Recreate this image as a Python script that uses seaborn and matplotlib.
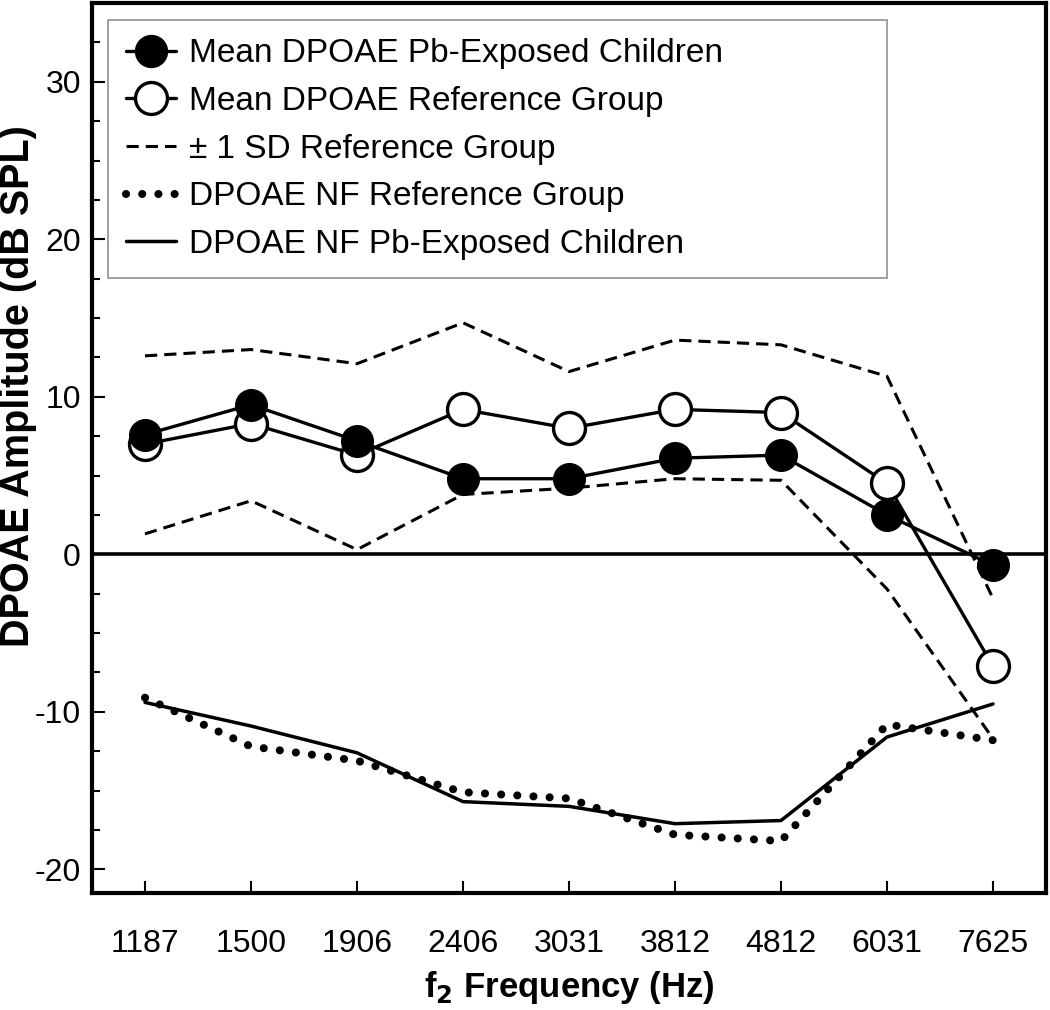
import numpy as np
import pandas as pd
import matplotlib
matplotlib.use('Agg')
import matplotlib.pyplot as plt
import seaborn as sns
from matplotlib.ticker import MultipleLocator

# f2 frequencies (categories)
freqs = ['1187', '1500', '1906', '2406', '3031', '3812', '4812', '6031', '7625']

# DPOAE amplitudes (dB SPL)
mean_pb = [7.6, 9.5, 7.2, 4.8, 4.8, 6.1, 6.3, 2.5, -0.7]
mean_ref = [7.0, 8.3, 6.3, 9.2, 8.0, 9.2, 9.0, 4.5, -7.1]
sd_upper = [12.6, 13.0, 12.1, 14.7, 11.6, 13.6, 13.3, 11.3, -2.8]
sd_lower = [1.3, 3.4, 0.3, 3.8, 4.2, 4.8, 4.7, -2.2, -11.7]
nf_ref = [-9.1, -12.2, -13.1, -15.1, -15.5, -17.8, -18.2, -10.8, -11.8]
nf_pb = [-9.4, -10.9, -12.6, -15.7, -16.0, -17.1, -16.9, -11.6, -9.5]


def build_frame():
    pos = np.arange(len(freqs))
    return pd.DataFrame({'pos': pos, 'mean_pb': mean_pb, 'mean_ref': mean_ref,
                         'sd_upper': sd_upper, 'sd_lower': sd_lower,
                         'nf_ref': nf_ref, 'nf_pb': nf_pb})


def plot_dpoae(df):
    sns.set_style('ticks')
    plt.rcParams['font.family'] = ['Liberation Sans', 'DejaVu Sans']
    plt.rcParams['text.color'] = 'black'
    plt.rcParams['axes.labelcolor'] = 'black'
    plt.rcParams['xtick.color'] = 'black'
    plt.rcParams['ytick.color'] = 'black'

    fig = plt.figure(figsize=(10.5, 10.1), dpi=100)
    ax = fig.add_axes([92 / 1050, 1 - 893 / 1010, 954 / 1050, 890 / 1010])

    ax.axhline(0, color='black', lw=2.6, zorder=1)

    # SD band of reference group
    sns.lineplot(data=df, x='pos', y='sd_upper', ax=ax, color='black', lw=2.2,
                 zorder=2, label='_nolegend_')
    sns.lineplot(data=df, x='pos', y='sd_lower', ax=ax, color='black', lw=2.2,
                 zorder=2, label='_nolegend_')
    for ln in ax.lines[-2:]:
        ln.set_dashes((4.0, 2.3))

    # noise floors
    sns.lineplot(data=df, x='pos', y='nf_ref', ax=ax, color='black', lw=5.8,
                 zorder=2, label='_nolegend_')
    ax.lines[-1].set_dashes((0.01, 2.0))
    ax.lines[-1].set_dash_capstyle('round')
    sns.lineplot(data=df, x='pos', y='nf_pb', ax=ax, color='black', lw=2.5,
                 zorder=2, label='_nolegend_')

    # means
    sns.lineplot(data=df, x='pos', y='mean_ref', ax=ax, color='black', lw=2.4,
                 marker='o', markersize=23, markerfacecolor='white',
                 markeredgecolor='black', markeredgewidth=2.4, zorder=3,
                 label='_nolegend_')
    sns.lineplot(data=df, x='pos', y='mean_pb', ax=ax, color='black', lw=2.4,
                 marker='o', markersize=23, markerfacecolor='black',
                 markeredgecolor='black', zorder=4, label='_nolegend_')

    ax.set_xlim(-0.5, len(freqs) - 0.5)
    ax.set_ylim(-21.5, 35)
    ax.set_xticks(np.arange(len(freqs)))
    ax.set_xticklabels(freqs)
    ax.set_yticks([-20, -10, 0, 10, 20, 30])
    ax.set_yticklabels(['-20', '-10', '0', '10', '20', '30'])
    ax.yaxis.set_minor_locator(MultipleLocator(2.5))
    ax.tick_params(axis='both', which='major', direction='in', length=9,
                   width=1.5, labelsize=23, pad=8)
    ax.tick_params(axis='y', which='minor', direction='in', length=6, width=1.5)
    ax.tick_params(axis='x', which='major', pad=26)
    for sp in ax.spines.values():
        sp.set_linewidth(3)
        sp.set_color('black')

    ax.set_xlabel(r'f$_\mathbf{2}$ Frequency (Hz)', fontsize=25,
                  fontweight='bold', labelpad=7)
    ax.set_ylabel('DPOAE Amplitude (dB SPL)', fontsize=28.5, fontweight='bold')
    ax.yaxis.set_label_coords(-0.058, 0.57)

    # legend handles
    handles = [
        plt.Line2D([], [], color='black', lw=2.4, marker='o', markersize=23,
                   markerfacecolor='black'),
        plt.Line2D([], [], color='black', lw=2.4, marker='o', markersize=23,
                   markerfacecolor='white', markeredgewidth=2.4),
        plt.Line2D([], [], color='black', lw=2.2, dashes=(4.0, 2.3)),
        plt.Line2D([], [], color='black', lw=5.8, dashes=(0.01, 2.0),
                   dash_capstyle='round'),
        plt.Line2D([], [], color='black', lw=2.5),
    ]
    labels = ['Mean DPOAE Pb-Exposed Children', 'Mean DPOAE Reference Group',
              '± 1 SD Reference Group', 'DPOAE NF Reference Group',
              'DPOAE NF Pb-Exposed Children']
    leg = ax.legend(handles, labels, loc='upper left',
                    bbox_to_anchor=(16 / 954, 0.4, 779 / 954, 0.5809),
                    mode='expand', borderaxespad=0, fontsize=24,
                    handlelength=1.5, handletextpad=0.38, labelspacing=0.5,
                    borderpad=0.55, fancybox=False, framealpha=1,
                    edgecolor='#999999')
    leg.get_frame().set_linewidth(1.3)

    fig.savefig('out.png', dpi=100)


def main():
    df = build_frame()
    plot_dpoae(df)


if __name__ == "__main__":
    main()
